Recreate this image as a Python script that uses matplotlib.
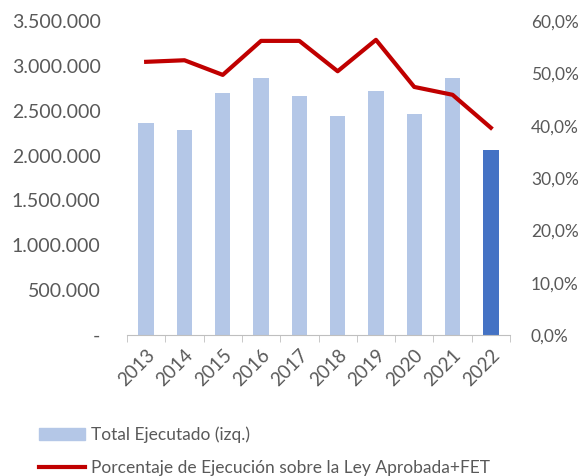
import matplotlib.pyplot as plt
from matplotlib.ticker import FuncFormatter
from matplotlib.lines import Line2D
from matplotlib.patches import Patch

# datos
anios = ['2013', '2014', '2015', '2016', '2017', '2018', '2019', '2020', '2021', '2022']
total_ejecutado = [2363000, 2285000, 2697000, 2865000, 2664000, 2441000, 2720000, 2463000, 2865000, 2062000]
porcentaje = [52.2, 52.5, 49.7, 56.2, 56.2, 50.4, 56.4, 47.4, 45.9, 39.6]

gris = '#595959'
plt.rcParams['font.family'] = ['Lato', 'DejaVu Sans']

fig = plt.figure(figsize=(5.84, 4.76), dpi=100)
ax = fig.add_axes([127/584, 1 - 335/476, 383/584, 314/476])
ax2 = ax.twinx()

x = list(range(len(anios)))
colores = ['#b4c7e7'] * (len(anios) - 1) + ['#4472c4']
ax.bar(x, total_ejecutado, width=0.4, color=colores, zorder=2)
ax2.plot(x, porcentaje, color='#c00000', lw=3, zorder=3)

ax.set_xlim(-0.5, len(anios) - 0.5)
ax.set_ylim(0, 3500000)
ax2.set_ylim(0, 60)
ax.set_yticks(range(0, 3500001, 500000))
ax2.set_yticks(range(0, 61, 10))

def miles(v, pos):
    if v == 0:
        return '-'
    return f'{int(v):,}'.replace(',', '.')

ax.yaxis.set_major_formatter(FuncFormatter(miles))
ax2.yaxis.set_major_formatter(FuncFormatter(lambda v, p: f'{v:.1f}%'.replace('.', ',')))

ax.set_xticks(x)
ax.set_xticklabels(anios, rotation=45, ha='right', rotation_mode='anchor')
ax.set_xticks([i - 0.5 for i in range(len(anios) + 1)], minor=True)
ax.tick_params(axis='x', which='major', length=0, labelsize=13.5, colors=gris, pad=8)
ax.tick_params(axis='x', which='minor', length=5, color='#bfbfbf')
ax.tick_params(axis='y', length=0, labelsize=14, colors=gris, pad=19)
ax2.tick_params(axis='y', length=0, labelsize=12.5, colors=gris, pad=15)

for a in (ax, ax2):
    for s in ['top', 'left', 'right', 'bottom']:
        a.spines[s].set_visible(False)
ax.spines['bottom'].set_visible(True)
ax.spines['bottom'].set_color('#bfbfbf')

handles = [Patch(color='#b4c7e7'), Line2D([0], [0], color='#c00000', lw=3)]
etiquetas = ['Total Ejecutado (izq.)', 'Porcentaje de Ejecución sobre la Ley Aprobada+FET']
fig.legend(handles, etiquetas, loc='upper left', bbox_to_anchor=(23/584, 1 - 411/476),
           frameon=False, fontsize=12.5, labelcolor=gris, handlelength=2.65,
           handletextpad=0.35, labelspacing=0.95)

plt.savefig('out.png', dpi=100)
